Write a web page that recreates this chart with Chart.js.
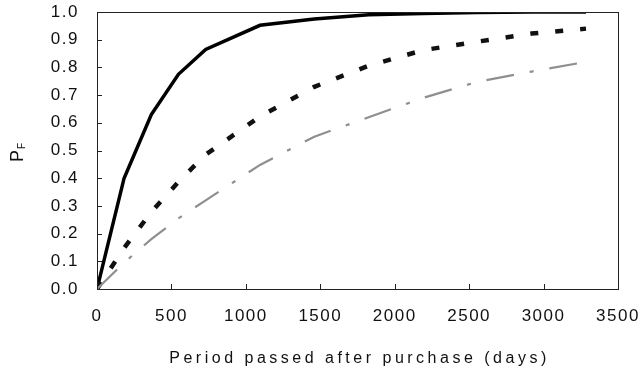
<!DOCTYPE html>
<html lang="en">
<head>
  <meta charset="UTF-8">
  <title>Period passed after purchase</title>
  <script src="https://cdn.jsdelivr.net/npm/chart.js"></script>
  <style>
    body { margin: 0; background: #fff; }
  </style>
</head>
<body>
  <canvas id="lineChart" width="641" height="376"></canvas>
  <script>
    // values (days after purchase -> P_F)
    const days = [0, 182, 365, 547, 730, 1095, 1460, 1825, 2190, 2555, 2920, 3285];
    const solidValues = [0, 0.40, 0.63, 0.775, 0.865, 0.952, 0.975, 0.99, 0.995, 0.998, 1.0, 1.0];
    const dashedValues = [0, 0.148, 0.278, 0.387, 0.485, 0.623, 0.73, 0.806, 0.862, 0.893, 0.922, 0.94];
    const grayValues = [0, 0.095, 0.18, 0.255, 0.32, 0.448, 0.55, 0.62, 0.69, 0.748, 0.785, 0.82];

    const xTicks = [0, 500, 1000, 1500, 2000, 2500, 3000, 3500];
    const yTicks = [0, 0.1, 0.2, 0.3, 0.4, 0.5, 0.6, 0.7, 0.8, 0.9, 1.0];
    const xTitle = 'Period passed after purchase (days)';

    const toPoints = (vals) => days.map((d, i) => ({ x: d, y: vals[i] }));
    const fontFamily = '"Liberation Sans", Arial, sans-serif';

    // frame, inward tick marks and axis titles
    const framePlugin = {
      id: 'frame',
      beforeDraw(chart) {
        chart.ctx.letterSpacing = '1.5px';
      },
      afterDraw(chart) {
        const { ctx, chartArea: a, scales } = chart;
        ctx.save();
        ctx.letterSpacing = '0px';
        ctx.strokeStyle = '#222';
        ctx.lineWidth = 1;
        ctx.strokeRect(a.left + 0.5, a.top + 0.5, a.right - a.left, a.bottom - a.top);
        ctx.beginPath();
        xTicks.forEach(v => {
          const px = Math.round(scales.x.getPixelForValue(v)) + 0.5;
          ctx.moveTo(px, a.bottom);
          ctx.lineTo(px, a.bottom - 5);
        });
        yTicks.forEach(v => {
          const py = Math.round(scales.y.getPixelForValue(v)) + 0.5;
          ctx.moveTo(a.left, py);
          ctx.lineTo(a.left + 5, py);
        });
        ctx.stroke();

        // x axis title
        ctx.fillStyle = '#111';
        ctx.font = '16px ' + fontFamily;
        ctx.letterSpacing = '3.5px';
        ctx.textAlign = 'center';
        ctx.textBaseline = 'middle';
        ctx.fillText(xTitle, (a.left + a.right) / 2 + 2, 359);

        // y axis title: P with subscript F
        ctx.letterSpacing = '0px';
        ctx.translate(18, 156);
        ctx.rotate(-Math.PI / 2);
        ctx.font = '18px ' + fontFamily;
        ctx.fillText('P', 0, 0);
        ctx.font = '10px ' + fontFamily;
        ctx.textAlign = 'left';
        ctx.fillText('F', 7, 4);
        ctx.restore();
      }
    };

    const ctx = document.getElementById('lineChart').getContext('2d');
    new Chart(ctx, {
      type: 'line',
      data: {
        datasets: [
          {
            label: 'gray',
            data: toPoints(grayValues),
            borderColor: '#8f8f8f',
            borderWidth: 2.2,
            borderDash: [28, 16, 4, 16],
            pointRadius: 0,
            tension: 0
          },
          {
            label: 'dashed',
            data: toPoints(dashedValues),
            borderColor: '#111',
            borderWidth: 4.5,
            borderDash: [8, 17],
            pointRadius: 0,
            tension: 0
          },
          {
            label: 'solid',
            data: toPoints(solidValues),
            borderColor: '#000',
            borderWidth: 3.5,
            pointRadius: 0,
            tension: 0
          }
        ]
      },
      options: {
        responsive: false,
        animation: false,
        layout: { padding: { top: 12, right: 23, left: 0, bottom: 0 } },
        plugins: {
          legend: { display: false },
          tooltip: { enabled: false }
        },
        scales: {
          x: {
            type: 'linear',
            min: 0,
            max: 3500,
            border: { display: false },
            grid: { display: false, drawTicks: false },
            ticks: {
              stepSize: 500,
              padding: 17,
              maxRotation: 0,
              color: '#111',
              font: { family: fontFamily, size: 17 },
              callback: (v) => String(v)
            },
            afterFit: (scale) => {
              scale.height = 87;
              scale.paddingLeft = 0;
              scale.paddingRight = 0;
            }
          },
          y: {
            min: 0,
            max: 1,
            border: { display: false },
            grid: { display: false, drawTicks: false },
            ticks: {
              stepSize: 0.1,
              padding: 18,
              color: '#111',
              font: { family: fontFamily, size: 17 },
              callback: (v) => v.toFixed(1)
            },
            afterFit: (scale) => {
              scale.width = 97;
              scale.paddingTop = 0;
              scale.paddingBottom = 0;
            }
          }
        }
      },
      plugins: [framePlugin]
    });
  </script>
</body>
</html>
